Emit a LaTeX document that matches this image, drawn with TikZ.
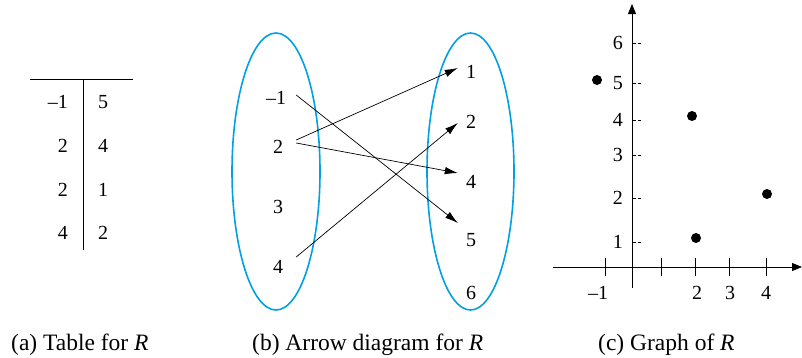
\documentclass[tikz,border=0pt]{standalone}
\usepackage{fontspec}
\setmainfont{Liberation Serif}
\usetikzlibrary{arrows.meta,shapes.geometric}
\definecolor{setblue}{RGB}{0,160,228}
\tikzset{
  num/.style={font=\fontsize{20}{20}\selectfont, inner sep=0pt},
  captext/.style={font=\fontsize{23.5}{24}\selectfont, inner sep=0pt, anchor=base west},
  setell/.style={draw=setblue, line width=1.6pt},
  lefts/.style={num, minimum width=36pt},
  rights/.style={num, minimum width=26pt},
  maparrow/.style={line width=0.7pt, -{Latex[length=13pt,width=7.5pt]}},
  axisline/.style={line width=0.8pt, -{Triangle[length=10pt,width=8pt]}},
  tickline/.style={line width=0.8pt},
  ytickline/.style={line width=0.8pt, dash pattern=on 3pt off 2pt},
  dotmark/.style={circle, fill=black, inner sep=0pt, minimum size=10pt},
  ruleline/.style={line width=0.8pt}
}
\begin{document}
\begin{tikzpicture}[x=1pt,y=-1pt]
\useasboundingbox (0,0) rectangle (802,357);
% (a) table
\coordinate (hl) at (30,79);
\coordinate (hr) at (133,79);
\coordinate (vt) at (83,79);
\coordinate (vb) at (83,250);
\draw[ruleline] (hl) -- (hr);
\draw[ruleline] (vt) -- (vb);
\node[num, anchor=east] (ta1) at (68,102) {\textendash1};
\node[num, anchor=east] (ta2) at (68,146) {2};
\node[num, anchor=east] (ta3) at (68,190) {2};
\node[num, anchor=east] (ta4) at (68,233) {4};
\node[num] (tb1) at (103,102) {5};
\node[num] (tb2) at (103,146) {4};
\node[num] (tb3) at (103,190) {1};
\node[num] (tb4) at (103,233) {2};
\node[captext] (capa) at (11,350) {(a) Table for \textit{R}};
% (b) arrow diagram
\node[setell, ellipse, minimum width=88pt, minimum height=277pt, inner sep=0pt] (eL) at (276,171.5) {};
\node[setell, ellipse, minimum width=87pt, minimum height=277pt, inner sep=0pt] (eR) at (470.5,171.5) {};
\node[lefts] (lm1) at (276,98) {\textendash1};
\node[lefts] (l2) at (278,147) {2};
\node[lefts] (l3) at (278,207) {3};
\node[lefts] (l4) at (278,267) {4};
\node[rights] (r1) at (471,72) {1};
\node[rights] (r2) at (471,122) {2};
\node[rights] (r4) at (471,182) {4};
\node[rights] (r5) at (471,240) {5};
\node[rights] (r6) at (471,293) {6};
\draw[maparrow] ([xshift=2pt,yshift=3pt]lm1.east) -- ([yshift=17pt]r5.west);
\draw[maparrow] ([yshift=7pt]l2.east) -- ([yshift=4pt]r1.west);
\draw[maparrow] ([yshift=4pt]l2.east) -- ([yshift=9pt]r4.west);
\draw[maparrow] ([yshift=10pt]l4.east) -- ([yshift=-1pt]r2.west);
\node[captext] (capb) at (252,350) {(b) Arrow diagram for \textit{R}};
% (c) graph
\coordinate (O) at (632,267);
\coordinate (xl) at (553,267);
\coordinate (xr) at (802,267);
\coordinate (yb) at (632,288);
\coordinate (yt) at (632,4);
\draw[axisline] (xl) -- (xr);
\draw[axisline] (yb) -- (yt);
\foreach \x/\n in {605/m1,661/p1,695/p2,729/p3,766/p4}{
  \coordinate (xt\n a) at (\x,258);
  \coordinate (xt\n b) at (\x,276);
  \draw[tickline] (xt\n a) -- (xt\n b);
}
\node[num] (xlm1) at (598,293) {\textendash1};
\node[num] (xl2) at (697,293) {2};
\node[num] (xl3) at (730,293) {3};
\node[num] (xl4) at (766,293) {4};
\foreach \y/\n in {242/1,198/2,155/3,120/4,83/5,43/6}{
  \coordinate (yt\n a) at (633,\y);
  \coordinate (yt\n b) at (641,\y);
  \draw[ytickline] (yt\n a) -- (yt\n b);
  \node[num, anchor=east] (yl\n) at (623,\y) {\n};
}
\node[dotmark] (d1) at (597,80) {};
\node[dotmark] (d2) at (692,116) {};
\node[dotmark] (d3) at (696,238) {};
\node[dotmark] (d4) at (767,194) {};
\node[captext] (capc) at (598,350) {(c) Graph of \textit{R}};
\end{tikzpicture}
\end{document}
